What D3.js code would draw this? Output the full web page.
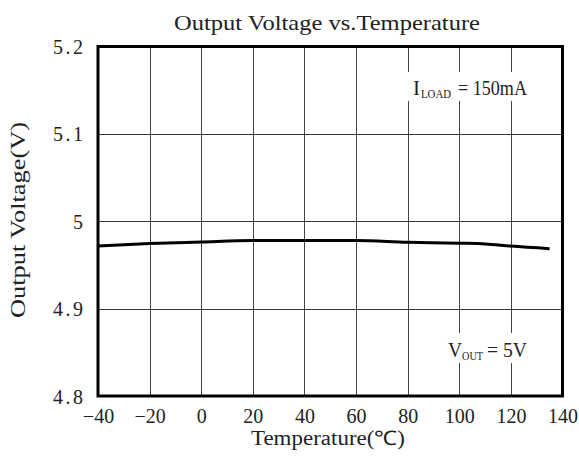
<!DOCTYPE html>
<html><head><meta charset="utf-8">
<script src="https://cdn.jsdelivr.net/npm/d3@7"></script>
<style>body{margin:0;background:#fff}svg{display:block}text{font-family:"Liberation Serif","Times New Roman",serif;fill:#222}</style>
</head><body><svg id="c" width="579" height="463"></svg>
<script>
const temps = [-40, -20, 0, 20, 40, 60, 80, 100, 110, 120, 135];
const volts = [4.9718, 4.9745, 4.9763, 4.9779, 4.9781, 4.9779, 4.9760, 4.9749, 4.9741, 4.9716, 4.9686];
const xTicks = [-40, -20, 0, 20, 40, 60, 80, 100, 120, 140];
const yTicks = [4.8, 4.9, 5.0, 5.1, 5.2];
const yTickLabels = ["4.8", "4.9", "5", "5.1", "5.2"];

const svg = d3.select("#c");
const L = 98, R = 562.5, T = 46.5, B = 396;
const x = d3.scaleLinear().domain([-40, 140]).range([L, R]);
const y = d3.scaleLinear().domain([4.8, 5.2]).range([B, T]);

// grid
const grid = svg.append("g");
grid.selectAll(".vg").data(xTicks.slice(1, -1)).join("line")
  .attr("x1", d => Math.round(x(d)) + 0.5).attr("x2", d => Math.round(x(d)) + 0.5)
  .attr("y1", T).attr("y2", B).attr("stroke", "#444").attr("stroke-width", 1);
grid.selectAll(".hg").data(yTicks.slice(1, -1)).join("line")
  .attr("y1", d => Math.round(y(d)) + 0.5).attr("y2", d => Math.round(y(d)) + 0.5)
  .attr("x1", L).attr("x2", R).attr("stroke", "#333").attr("stroke-width", 1);

// annotation backgrounds
svg.append("rect").attr("x", 408).attr("y", 72).attr("width", 126).attr("height", 29).attr("fill", "#fff");
svg.append("rect").attr("x", 444).attr("y", 333).attr("width", 90).attr("height", 30).attr("fill", "#fff");

// data line
const line = d3.line().x((d, i) => x(temps[i])).y(d => y(d)).curve(d3.curveMonotoneX);
svg.append("path").datum(volts).attr("d", line).attr("fill", "none")
  .attr("stroke", "#000").attr("stroke-width", 3);

// frame
svg.append("rect").attr("x", L).attr("y", T).attr("width", R - L).attr("height", B - T)
  .attr("fill", "none").attr("stroke", "#000").attr("stroke-width", 3);

// axes (labels only)
const xAxis = svg.append("g").attr("transform", `translate(0,${B})`)
  .call(d3.axisBottom(x).tickValues(xTicks).tickSize(0).tickPadding(0));
xAxis.select(".domain").remove();
xAxis.selectAll("text").attr("y", 27).attr("dy", 0).attr("font-size", 20)
  .attr("font-family", "Liberation Serif").attr("fill", "#222");

const yAxis = svg.append("g").attr("transform", `translate(${L},0)`)
  .call(d3.axisLeft(y).tickValues(yTicks).tickFormat((d, i) => yTickLabels[i]).tickSize(0).tickPadding(0));
yAxis.select(".domain").remove();
yAxis.selectAll("text").attr("x", -15).attr("dy", 0).attr("y", 7).attr("font-size", 20)
  .attr("font-family", "Liberation Serif").attr("fill", "#222")
  .each(function () {
    const t = d3.select(this).text();
    if (t.length > 1) d3.select(this).attr("textLength", t.length * 10).attr("lengthAdjust", "spacing");
  });

// titles
svg.append("text").attr("x", 174).attr("y", 30).attr("font-size", 21)
  .attr("textLength", 306).attr("lengthAdjust", "spacingAndGlyphs").text("Output Voltage vs.Temperature");
svg.append("text").attr("x", 251).attr("y", 445).attr("font-size", 20)
  .attr("textLength", 154).attr("lengthAdjust", "spacingAndGlyphs").text("Temperature(℃)");
svg.append("text").attr("transform", "translate(25,318) rotate(-90)").attr("font-size", 20)
  .attr("textLength", 196).attr("lengthAdjust", "spacingAndGlyphs").text("Output Voltage(V)");

// annotations
svg.append("text").attr("x", 413).attr("y", 95).attr("font-size", 21).text("I");
svg.append("text").attr("x", 421).attr("y", 97.5).attr("font-size", 12)
  .attr("textLength", 30).attr("lengthAdjust", "spacingAndGlyphs").text("LOAD");
svg.append("text").attr("x", 458).attr("y", 95).attr("font-size", 21)
  .attr("textLength", 69).attr("lengthAdjust", "spacingAndGlyphs").text("= 150mA");

svg.append("text").attr("x", 448).attr("y", 357).attr("font-size", 21)
  .attr("textLength", 14).attr("lengthAdjust", "spacingAndGlyphs").text("V");
svg.append("text").attr("x", 462).attr("y", 360).attr("font-size", 12)
  .attr("textLength", 21).attr("lengthAdjust", "spacingAndGlyphs").text("OUT");
svg.append("text").attr("x", 487).attr("y", 357).attr("font-size", 21)
  .attr("textLength", 40).attr("lengthAdjust", "spacingAndGlyphs").text("= 5V");
</script></body></html>
